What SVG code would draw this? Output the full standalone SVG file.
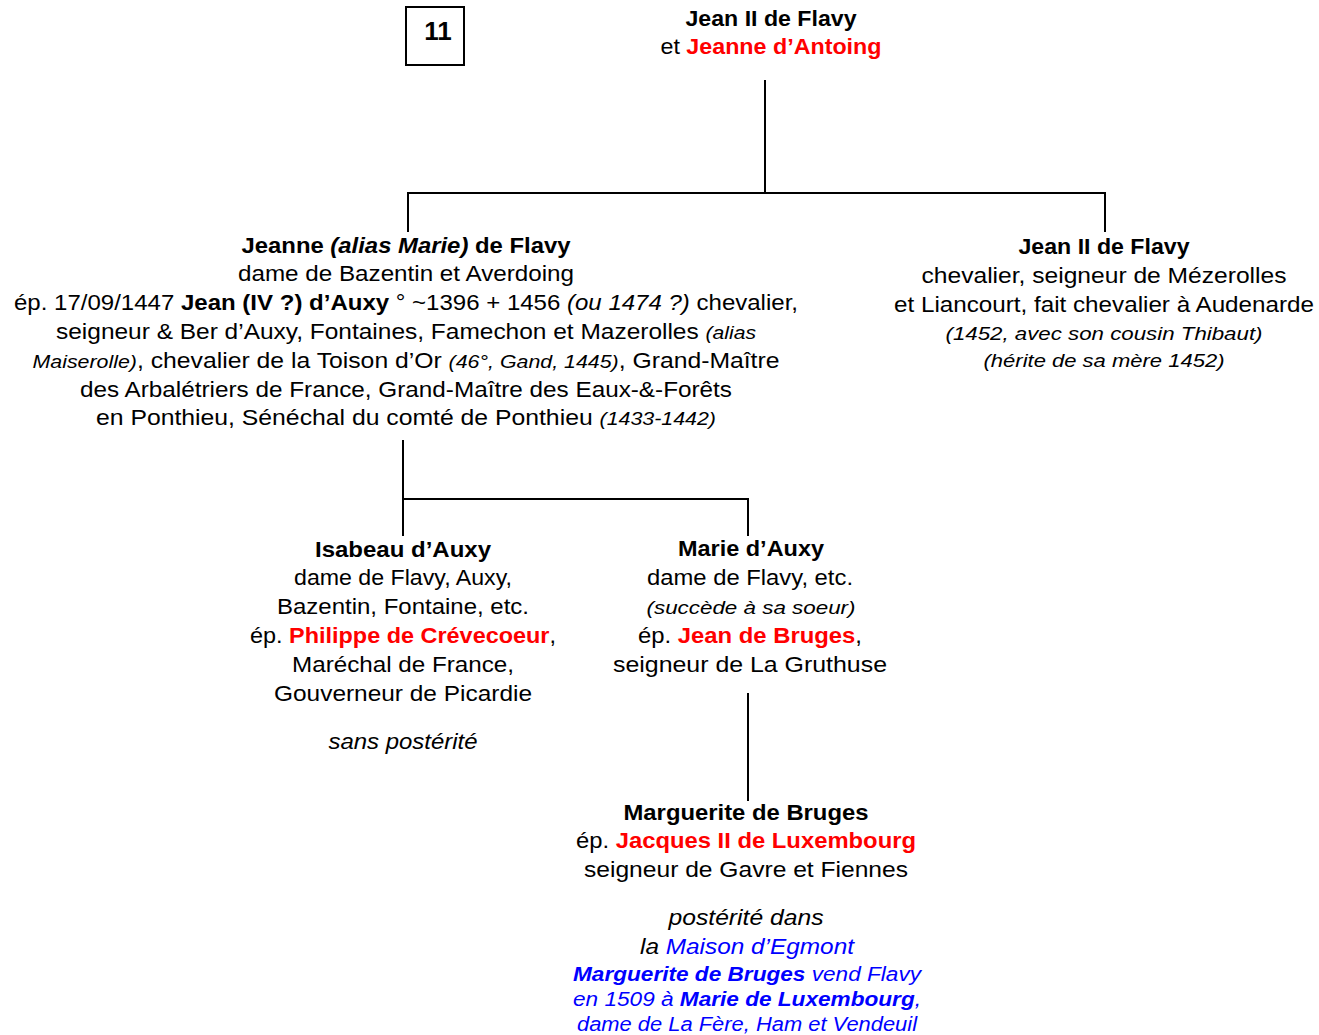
<svg xmlns="http://www.w3.org/2000/svg" width="1319" height="1035" viewBox="0 0 1319 1035">
<style>
text{font-family:"Liberation Sans",Arial,sans-serif;font-size:22px;fill:#000;text-anchor:middle}
.b{font-weight:bold}
.i{font-style:italic}
.s{font-size:19px}
.r{fill:#FF0000;font-weight:bold}
.bl{fill:#0000FF}
.c line{stroke:#000;stroke-width:2}
</style>
<rect width="1319" height="1035" fill="#fff"/>
<g id="label11">
<rect x="406" y="7" width="58" height="58" fill="none" stroke="#000" stroke-width="2"/>
<text x="438" y="40" class="b" style="font-size:26px">11</text>
</g>
<g class="c" id="connectors">
<line x1="765" y1="80" x2="765" y2="193"/>
<line x1="407" y1="193" x2="1106" y2="193"/>
<line x1="408" y1="192" x2="408" y2="232"/>
<line x1="1105" y1="192" x2="1105" y2="232"/>
<line x1="403" y1="440" x2="403" y2="536"/>
<line x1="402" y1="499" x2="749" y2="499"/>
<line x1="748" y1="498" x2="748" y2="536"/>
<line x1="748" y1="693" x2="748" y2="801"/>
</g>
<g id="parents">
<text x="771" y="26" class="b" textLength="171" lengthAdjust="spacingAndGlyphs">Jean II de Flavy</text>
<text x="771" y="54" textLength="221" lengthAdjust="spacingAndGlyphs">et <tspan class="r">Jeanne d’Antoing</tspan></text>
</g>
<g id="jeanne">
<text x="406" y="253" textLength="329" lengthAdjust="spacingAndGlyphs"><tspan class="b">Jeanne </tspan><tspan class="b i">(alias Marie)</tspan><tspan class="b"> de Flavy</tspan></text>
<text x="406" y="281" textLength="336" lengthAdjust="spacingAndGlyphs">dame de Bazentin et Averdoing</text>
<text x="406" y="310" textLength="784" lengthAdjust="spacingAndGlyphs">ép. 17/09/1447 <tspan class="b">Jean (IV ?) d’Auxy</tspan> ° ~1396 + 1456 <tspan class="i">(ou 1474 ?)</tspan> chevalier,</text>
<text x="406" y="339" textLength="700" lengthAdjust="spacingAndGlyphs">seigneur &amp; Ber d’Auxy, Fontaines, Famechon et Mazerolles <tspan class="i s">(alias</tspan></text>
<text x="406" y="368" textLength="747" lengthAdjust="spacingAndGlyphs"><tspan class="i s">Maiserolle)</tspan>, chevalier de la Toison d’Or <tspan class="i s">(46°, Gand, 1445)</tspan>, Grand-Maître</text>
<text x="406" y="397" textLength="652" lengthAdjust="spacingAndGlyphs">des Arbalétriers de France, Grand-Maître des Eaux-&amp;-Forêts</text>
<text x="406" y="425" textLength="620" lengthAdjust="spacingAndGlyphs">en Ponthieu, Sénéchal du comté de Ponthieu <tspan class="i s">(1433-1442)</tspan></text>
</g>
<g id="jean2">
<text x="1104" y="254" class="b" textLength="171" lengthAdjust="spacingAndGlyphs">Jean II de Flavy</text>
<text x="1104" y="283" textLength="365" lengthAdjust="spacingAndGlyphs">chevalier, seigneur de Mézerolles</text>
<text x="1104" y="312" textLength="420" lengthAdjust="spacingAndGlyphs">et Liancourt, fait chevalier à Audenarde</text>
<text x="1104" y="340" class="i s" textLength="317" lengthAdjust="spacingAndGlyphs">(1452, avec son cousin Thibaut)</text>
<text x="1104" y="367" class="i s" textLength="241" lengthAdjust="spacingAndGlyphs">(hérite de sa mère 1452)</text>
</g>
<g id="isabeau">
<text x="403" y="557" class="b" textLength="176" lengthAdjust="spacingAndGlyphs">Isabeau d’Auxy</text>
<text x="403" y="585" textLength="218" lengthAdjust="spacingAndGlyphs">dame de Flavy, Auxy,</text>
<text x="403" y="614" textLength="252" lengthAdjust="spacingAndGlyphs">Bazentin, Fontaine, etc.</text>
<text x="403" y="643" textLength="306" lengthAdjust="spacingAndGlyphs">ép. <tspan class="r">Philippe de Crévecoeur</tspan>,</text>
<text x="403" y="672" textLength="222" lengthAdjust="spacingAndGlyphs">Maréchal de France,</text>
<text x="403" y="701" textLength="258" lengthAdjust="spacingAndGlyphs">Gouverneur de Picardie</text>
<text x="403" y="749" class="i" textLength="149" lengthAdjust="spacingAndGlyphs">sans postérité</text>
</g>
<g id="marie">
<text x="751" y="556" class="b" textLength="146" lengthAdjust="spacingAndGlyphs">Marie d’Auxy</text>
<text x="750" y="585" textLength="206" lengthAdjust="spacingAndGlyphs">dame de Flavy, etc.</text>
<text x="751" y="614" class="i s" textLength="209" lengthAdjust="spacingAndGlyphs">(succède à sa soeur)</text>
<text x="750" y="643" textLength="224" lengthAdjust="spacingAndGlyphs">ép. <tspan class="r">Jean de Bruges</tspan>,</text>
<text x="750" y="672" textLength="274" lengthAdjust="spacingAndGlyphs">seigneur de La Gruthuse</text>
</g>
<g id="marguerite">
<text x="746" y="820" class="b" textLength="245" lengthAdjust="spacingAndGlyphs">Marguerite de Bruges</text>
<text x="746" y="848" textLength="340" lengthAdjust="spacingAndGlyphs">ép. <tspan class="r">Jacques II de Luxembourg</tspan></text>
<text x="746" y="877" textLength="324" lengthAdjust="spacingAndGlyphs">seigneur de Gavre et Fiennes</text>
<text x="746" y="925" class="i" textLength="155" lengthAdjust="spacingAndGlyphs">postérité dans</text>
<text x="747" y="954" class="i" textLength="214" lengthAdjust="spacingAndGlyphs">la <tspan class="bl">Maison d’Egmont</tspan></text>
<text x="747" y="981" class="i bl" style="font-size:20px" textLength="348" lengthAdjust="spacingAndGlyphs"><tspan class="b">Marguerite de Bruges</tspan> vend Flavy</text>
<text x="747" y="1006" class="i bl" style="font-size:20px" textLength="348" lengthAdjust="spacingAndGlyphs">en 1509 à <tspan class="b">Marie de Luxembourg</tspan>,</text>
<text x="747" y="1031" class="i bl" style="font-size:20px" textLength="340" lengthAdjust="spacingAndGlyphs">dame de La Fère, Ham et Vendeuil</text>
</g>
</svg>
